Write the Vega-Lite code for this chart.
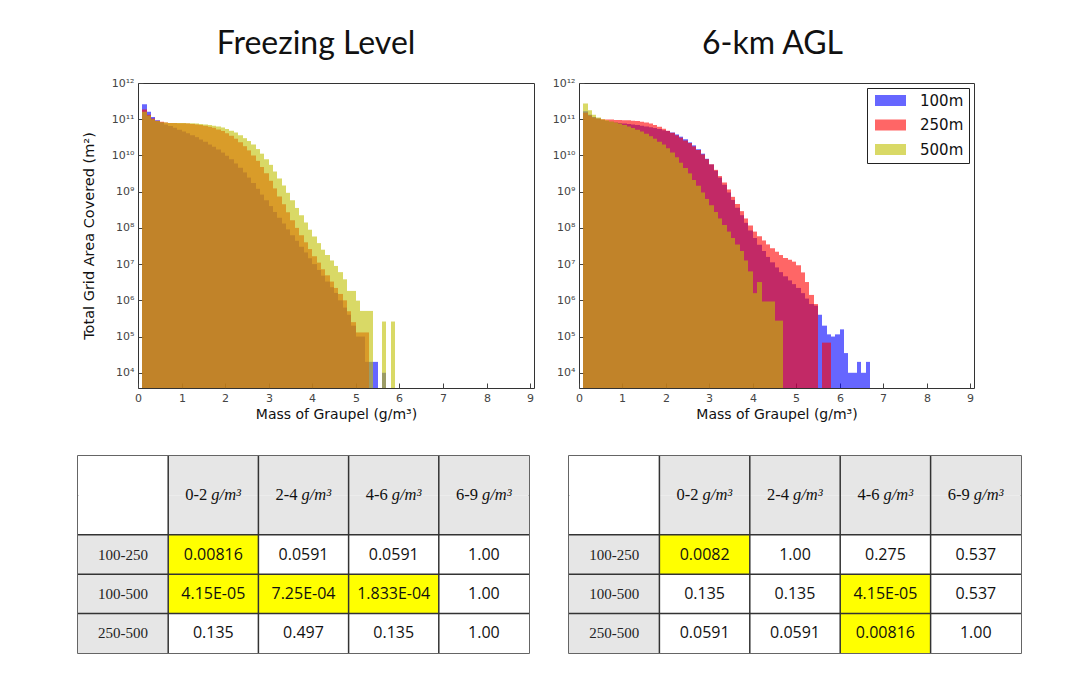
{
  "$schema": "https://vega.github.io/schema/vega-lite/v6.json",
  "background": "white",
  "padding": {"left": 76, "top": 27, "right": 0, "bottom": 0},
  "config": {
    "font": "DejaVu Sans",
    "view": {"stroke": "#333", "strokeWidth": 1},
    "axis": {"domain": false, "grid": false, "labelColor": "#444", "labelFont": "DejaVu Sans", "labelFontSize": 11, "tickColor": "#444", "tickSize": -5, "labelPadding": 9, "titleFont": "DejaVu Sans", "titleFontWeight": "normal", "titleFontSize": 14, "titleColor": "#111"},
    "title": {"font": "Lato", "fontSize": 32, "fontWeight": "normal", "color": "#111", "offset": 16}
  },
  "datasets": {
    "hist": [
      {"panel":"FL","lo":0.1,"hi":0.2,"100m":2.6e11,"250m":1.86e11,"500m":1.6e11},
      {"panel":"FL","lo":0.2,"hi":0.3,"100m":1.6e11,"250m":1.32e11,"500m":1.26e11},
      {"panel":"FL","lo":0.3,"hi":0.4,"100m":1.15e11,"250m":1.05e11,"500m":1.0e11},
      {"panel":"FL","lo":0.4,"hi":0.5,"100m":9.3e10,"250m":9.1e10,"500m":8.9e10},
      {"panel":"FL","lo":0.5,"hi":0.6,"100m":8.1e10,"250m":8.5e10,"500m":8.3e10},
      {"panel":"FL","lo":0.6,"hi":0.7,"100m":7.2e10,"250m":8.1e10,"500m":8.1e10},
      {"panel":"FL","lo":0.7,"hi":0.8,"100m":6.5e10,"250m":7.9e10,"500m":7.9e10},
      {"panel":"FL","lo":0.8,"hi":0.9,"100m":5.8e10,"250m":7.9e10,"500m":7.9e10},
      {"panel":"FL","lo":0.9,"hi":1.0,"100m":5.1e10,"250m":7.8e10,"500m":7.9e10},
      {"panel":"FL","lo":1.0,"hi":1.1,"100m":4.6e10,"250m":7.8e10,"500m":7.9e10},
      {"panel":"FL","lo":1.1,"hi":1.2,"100m":4.1e10,"250m":7.6e10,"500m":7.8e10},
      {"panel":"FL","lo":1.2,"hi":1.3,"100m":3.6e10,"250m":7.4e10,"500m":7.7e10},
      {"panel":"FL","lo":1.3,"hi":1.4,"100m":3.2e10,"250m":7.2e10,"500m":7.6e10},
      {"panel":"FL","lo":1.4,"hi":1.5,"100m":2.75e10,"250m":6.9e10,"500m":7.4e10},
      {"panel":"FL","lo":1.5,"hi":1.6,"100m":2.4e10,"250m":6.6e10,"500m":7.2e10},
      {"panel":"FL","lo":1.6,"hi":1.7,"100m":2.0e10,"250m":6.2e10,"500m":6.9e10},
      {"panel":"FL","lo":1.7,"hi":1.8,"100m":1.74e10,"250m":5.8e10,"500m":6.6e10},
      {"panel":"FL","lo":1.8,"hi":1.9,"100m":1.45e10,"250m":5.2e10,"500m":6.3e10},
      {"panel":"FL","lo":1.9,"hi":2.0,"100m":1.2e10,"250m":4.7e10,"500m":5.9e10},
      {"panel":"FL","lo":2.0,"hi":2.1,"100m":9.8e9,"250m":4.1e10,"500m":5.4e10},
      {"panel":"FL","lo":2.1,"hi":2.2,"100m":7.8e9,"250m":3.5e10,"500m":4.8e10},
      {"panel":"FL","lo":2.2,"hi":2.3,"100m":6.0e9,"250m":2.9e10,"500m":4.3e10},
      {"panel":"FL","lo":2.3,"hi":2.4,"100m":4.6e9,"250m":2.3e10,"500m":3.6e10},
      {"panel":"FL","lo":2.4,"hi":2.5,"100m":3.4e9,"250m":1.8e10,"500m":3.0e10},
      {"panel":"FL","lo":2.5,"hi":2.6,"100m":2.45e9,"250m":1.38e10,"500m":2.5e10},
      {"panel":"FL","lo":2.6,"hi":2.7,"100m":1.74e9,"250m":1.0e10,"500m":2.0e10},
      {"panel":"FL","lo":2.7,"hi":2.8,"100m":1.2e9,"250m":7.1e9,"500m":1.5e10},
      {"panel":"FL","lo":2.8,"hi":2.9,"100m":8.3e8,"250m":4.8e9,"500m":1.12e10},
      {"panel":"FL","lo":2.9,"hi":3.0,"100m":5.75e8,"250m":3.2e9,"500m":7.9e9},
      {"panel":"FL","lo":3.0,"hi":3.1,"100m":4.0e8,"250m":2.0e9,"500m":5.5e9},
      {"panel":"FL","lo":3.1,"hi":3.2,"100m":2.75e8,"250m":1.23e9,"500m":3.6e9},
      {"panel":"FL","lo":3.2,"hi":3.3,"100m":1.9e8,"250m":7.4e8,"500m":2.3e9},
      {"panel":"FL","lo":3.3,"hi":3.4,"100m":1.32e8,"250m":4.5e8,"500m":1.48e9},
      {"panel":"FL","lo":3.4,"hi":3.5,"100m":9.1e7,"250m":2.7e8,"500m":9.3e8},
      {"panel":"FL","lo":3.5,"hi":3.6,"100m":6.3e7,"250m":1.62e8,"500m":5.75e8},
      {"panel":"FL","lo":3.6,"hi":3.7,"100m":4.4e7,"250m":1.0e8,"500m":3.55e8},
      {"panel":"FL","lo":3.7,"hi":3.8,"100m":3.0e7,"250m":6.3e7,"500m":2.24e8},
      {"panel":"FL","lo":3.8,"hi":3.9,"100m":2.1e7,"250m":4.0e7,"500m":1.41e8},
      {"panel":"FL","lo":3.9,"hi":4.0,"100m":1.45e7,"250m":2.6e7,"500m":8.9e7},
      {"panel":"FL","lo":4.0,"hi":4.1,"100m":1.0e7,"250m":1.66e7,"500m":5.75e7},
      {"panel":"FL","lo":4.1,"hi":4.2,"100m":6.9e6,"250m":1.1e7,"500m":3.8e7},
      {"panel":"FL","lo":4.2,"hi":4.3,"100m":4.8e6,"250m":7.2e6,"500m":2.5e7},
      {"panel":"FL","lo":4.3,"hi":4.4,"100m":3.3e6,"250m":4.9e6,"500m":1.78e7},
      {"panel":"FL","lo":4.4,"hi":4.5,"100m":2.3e6,"250m":3.3e6,"500m":1.26e7},
      {"panel":"FL","lo":4.5,"hi":4.6,"100m":1.6e6,"250m":2.2e6,"500m":8.9e6},
      {"panel":"FL","lo":4.6,"hi":4.7,"100m":1.0e6,"250m":1.5e6,"500m":6.0e6},
      {"panel":"FL","lo":4.7,"hi":4.8,"100m":6.3e5,"250m":1.0e6,"500m":3.8e6},
      {"panel":"FL","lo":4.8,"hi":4.9,"100m":4.0e5,"250m":5.0e5,"500m":1.82e6},
      {"panel":"FL","lo":4.9,"hi":5.0,"100m":2.0e5,"250m":2.5e5,"500m":1.82e6},
      {"panel":"FL","lo":5.0,"hi":5.1,"100m":1.0e5,"250m":1.3e5,"500m":9.8e5},
      {"panel":"FL","lo":5.1,"hi":5.2,"100m":1.0e5,"250m":1.3e5,"500m":5.1e5},
      {"panel":"FL","lo":5.2,"hi":5.3,"100m":2.0e4,"250m":1.3e5,"500m":5.1e5},
      {"panel":"FL","lo":5.3,"hi":5.4,"100m":2.0e4,"250m":null,"500m":5.1e5},
      {"panel":"FL","lo":5.4,"hi":5.5,"100m":2.0e4,"250m":null,"500m":null},
      {"panel":"FL","lo":5.6,"hi":5.7,"100m":1.0e4,"250m":null,"500m":2.6e5},
      {"panel":"FL","lo":5.8,"hi":5.9,"100m":null,"250m":null,"500m":2.6e5},
      {"panel":"AGL","lo":0.1,"hi":0.2,"100m":1.66e11,"250m":1.5e11,"500m":2.7e11},
      {"panel":"AGL","lo":0.2,"hi":0.3,"100m":1.32e11,"250m":1.26e11,"500m":1.78e11},
      {"panel":"AGL","lo":0.3,"hi":0.4,"100m":1.15e11,"250m":1.12e11,"500m":1.32e11},
      {"panel":"AGL","lo":0.4,"hi":0.5,"100m":1.05e11,"250m":1.05e11,"500m":1.12e11},
      {"panel":"AGL","lo":0.5,"hi":0.6,"100m":9.5e10,"250m":1.0e11,"500m":1.0e11},
      {"panel":"AGL","lo":0.6,"hi":0.7,"100m":8.9e10,"250m":9.8e10,"500m":9.3e10},
      {"panel":"AGL","lo":0.7,"hi":0.8,"100m":8.5e10,"250m":9.8e10,"500m":8.7e10},
      {"panel":"AGL","lo":0.8,"hi":0.9,"100m":8.1e10,"250m":9.5e10,"500m":8.1e10},
      {"panel":"AGL","lo":0.9,"hi":1.0,"100m":7.9e10,"250m":9.5e10,"500m":7.6e10},
      {"panel":"AGL","lo":1.0,"hi":1.1,"100m":7.6e10,"250m":9.3e10,"500m":6.9e10},
      {"panel":"AGL","lo":1.1,"hi":1.2,"100m":7.4e10,"250m":9.3e10,"500m":6.3e10},
      {"panel":"AGL","lo":1.2,"hi":1.3,"100m":7.1e10,"250m":9.1e10,"500m":5.75e10},
      {"panel":"AGL","lo":1.3,"hi":1.4,"100m":6.9e10,"250m":8.9e10,"500m":5.1e10},
      {"panel":"AGL","lo":1.4,"hi":1.5,"100m":6.6e10,"250m":8.5e10,"500m":4.6e10},
      {"panel":"AGL","lo":1.5,"hi":1.6,"100m":6.3e10,"250m":8.1e10,"500m":4.0e10},
      {"panel":"AGL","lo":1.6,"hi":1.7,"100m":6.0e10,"250m":7.6e10,"500m":3.4e10},
      {"panel":"AGL","lo":1.7,"hi":1.8,"100m":5.75e10,"250m":6.9e10,"500m":2.9e10},
      {"panel":"AGL","lo":1.8,"hi":1.9,"100m":5.4e10,"250m":6.2e10,"500m":2.4e10},
      {"panel":"AGL","lo":1.9,"hi":2.0,"100m":5.0e10,"250m":5.5e10,"500m":2.0e10},
      {"panel":"AGL","lo":2.0,"hi":2.1,"100m":4.7e10,"250m":4.8e10,"500m":1.58e10},
      {"panel":"AGL","lo":2.1,"hi":2.2,"100m":4.3e10,"250m":4.2e10,"500m":1.2e10},
      {"panel":"AGL","lo":2.2,"hi":2.3,"100m":3.8e10,"250m":3.6e10,"500m":8.9e9},
      {"panel":"AGL","lo":2.3,"hi":2.4,"100m":3.3e10,"250m":3.1e10,"500m":6.3e9},
      {"panel":"AGL","lo":2.4,"hi":2.5,"100m":2.8e10,"250m":2.6e10,"500m":4.5e9},
      {"panel":"AGL","lo":2.5,"hi":2.6,"100m":2.3e10,"250m":2.2e10,"500m":3.2e9},
      {"panel":"AGL","lo":2.6,"hi":2.7,"100m":1.9e10,"250m":1.78e10,"500m":2.1e9},
      {"panel":"AGL","lo":2.7,"hi":2.8,"100m":1.48e10,"250m":1.41e10,"500m":1.45e9},
      {"panel":"AGL","lo":2.8,"hi":2.9,"100m":1.12e10,"250m":1.07e10,"500m":9.5e8},
      {"panel":"AGL","lo":2.9,"hi":3.0,"100m":8.1e9,"250m":7.9e9,"500m":6.3e8},
      {"panel":"AGL","lo":3.0,"hi":3.1,"100m":5.6e9,"250m":5.75e9,"500m":4.2e8},
      {"panel":"AGL","lo":3.1,"hi":3.2,"100m":3.8e9,"250m":4.0e9,"500m":2.75e8},
      {"panel":"AGL","lo":3.2,"hi":3.3,"100m":2.45e9,"250m":2.7e9,"500m":1.82e8},
      {"panel":"AGL","lo":3.3,"hi":3.4,"100m":1.55e9,"250m":1.78e9,"500m":1.2e8},
      {"panel":"AGL","lo":3.4,"hi":3.5,"100m":9.5e8,"250m":1.15e9,"500m":7.9e7},
      {"panel":"AGL","lo":3.5,"hi":3.6,"100m":5.9e8,"250m":7.2e8,"500m":5.25e7},
      {"panel":"AGL","lo":3.6,"hi":3.7,"100m":3.6e8,"250m":4.6e8,"500m":3.5e7},
      {"panel":"AGL","lo":3.7,"hi":3.8,"100m":2.24e8,"250m":2.9e8,"500m":2.3e7},
      {"panel":"AGL","lo":3.8,"hi":3.9,"100m":1.38e8,"250m":1.82e8,"500m":1.26e7},
      {"panel":"AGL","lo":3.9,"hi":4.0,"100m":8.5e7,"250m":1.17e8,"500m":6.3e6},
      {"panel":"AGL","lo":4.0,"hi":4.1,"100m":5.25e7,"250m":7.9e7,"500m":1.58e6},
      {"panel":"AGL","lo":4.1,"hi":4.2,"100m":3.4e7,"250m":5.9e7,"500m":3.2e6},
      {"panel":"AGL","lo":4.2,"hi":4.3,"100m":2.3e7,"250m":4.5e7,"500m":9.3e5},
      {"panel":"AGL","lo":4.3,"hi":4.4,"100m":1.58e7,"250m":3.5e7,"500m":9.3e5},
      {"panel":"AGL","lo":4.4,"hi":4.5,"100m":1.12e7,"250m":2.75e7,"500m":9.3e5},
      {"panel":"AGL","lo":4.5,"hi":4.6,"100m":8.1e6,"250m":2.2e7,"500m":2.75e5},
      {"panel":"AGL","lo":4.6,"hi":4.7,"100m":6.0e6,"250m":1.78e7,"500m":2.75e5},
      {"panel":"AGL","lo":4.7,"hi":4.8,"100m":4.6e6,"250m":1.48e7,"500m":null},
      {"panel":"AGL","lo":4.8,"hi":4.9,"100m":3.55e6,"250m":1.32e7,"500m":null},
      {"panel":"AGL","lo":4.9,"hi":5.0,"100m":2.8e6,"250m":1.17e7,"500m":null},
      {"panel":"AGL","lo":5.0,"hi":5.1,"100m":2.2e6,"250m":9.3e6,"500m":null},
      {"panel":"AGL","lo":5.1,"hi":5.2,"100m":1.58e6,"250m":5.9e6,"500m":null},
      {"panel":"AGL","lo":5.2,"hi":5.3,"100m":1.12e6,"250m":3.2e6,"500m":null},
      {"panel":"AGL","lo":5.3,"hi":5.4,"100m":7.9e5,"250m":1.41e6,"500m":null},
      {"panel":"AGL","lo":5.4,"hi":5.5,"100m":7.1e5,"250m":7.9e5,"500m":null},
      {"panel":"AGL","lo":5.5,"hi":5.6,"100m":4.0e5,"250m":null,"500m":null},
      {"panel":"AGL","lo":5.6,"hi":5.7,"100m":2.0e5,"250m":6.8e4,"500m":null},
      {"panel":"AGL","lo":5.7,"hi":5.8,"100m":1.15e5,"250m":6.8e4,"500m":null},
      {"panel":"AGL","lo":5.8,"hi":5.9,"100m":1.0e5,"250m":null,"500m":null},
      {"panel":"AGL","lo":5.9,"hi":6.0,"100m":1.15e5,"250m":null,"500m":null},
      {"panel":"AGL","lo":6.0,"hi":6.1,"100m":1.58e5,"250m":null,"500m":null},
      {"panel":"AGL","lo":6.1,"hi":6.2,"100m":3.5e4,"250m":null,"500m":null},
      {"panel":"AGL","lo":6.2,"hi":6.3,"100m":1.0e4,"250m":null,"500m":null},
      {"panel":"AGL","lo":6.3,"hi":6.4,"100m":1.0e4,"250m":null,"500m":null},
      {"panel":"AGL","lo":6.4,"hi":6.5,"100m":2.0e4,"250m":null,"500m":null},
      {"panel":"AGL","lo":6.5,"hi":6.6,"100m":1.0e4,"250m":null,"500m":null},
      {"panel":"AGL","lo":6.6,"hi":6.7,"100m":2.0e4,"250m":null,"500m":null}
    ],
    "cells": [
      {"t":"L","row":"header","col":"c0","txt":"","kind":"blank"},
      {"t":"L","row":"header","col":"c1","txt":"0-2","kind":"head"},
      {"t":"L","row":"header","col":"c2","txt":"2-4","kind":"head"},
      {"t":"L","row":"header","col":"c3","txt":"4-6","kind":"head"},
      {"t":"L","row":"header","col":"c4","txt":"6-9","kind":"head"},
      {"t":"L","row":"100-250","col":"c0","txt":"100-250","kind":"label"},
      {"t":"L","row":"100-250","col":"c1","txt":"0.00816","kind":"hl"},
      {"t":"L","row":"100-250","col":"c2","txt":"0.0591","kind":"val"},
      {"t":"L","row":"100-250","col":"c3","txt":"0.0591","kind":"val"},
      {"t":"L","row":"100-250","col":"c4","txt":"1.00","kind":"val"},
      {"t":"L","row":"100-500","col":"c0","txt":"100-500","kind":"label"},
      {"t":"L","row":"100-500","col":"c1","txt":"4.15E-05","kind":"hl"},
      {"t":"L","row":"100-500","col":"c2","txt":"7.25E-04","kind":"hl"},
      {"t":"L","row":"100-500","col":"c3","txt":"1.833E-04","kind":"hl"},
      {"t":"L","row":"100-500","col":"c4","txt":"1.00","kind":"val"},
      {"t":"L","row":"250-500","col":"c0","txt":"250-500","kind":"label"},
      {"t":"L","row":"250-500","col":"c1","txt":"0.135","kind":"val"},
      {"t":"L","row":"250-500","col":"c2","txt":"0.497","kind":"val"},
      {"t":"L","row":"250-500","col":"c3","txt":"0.135","kind":"val"},
      {"t":"L","row":"250-500","col":"c4","txt":"1.00","kind":"val"},
      {"t":"R","row":"header","col":"c0","txt":"","kind":"blank"},
      {"t":"R","row":"header","col":"c1","txt":"0-2","kind":"head"},
      {"t":"R","row":"header","col":"c2","txt":"2-4","kind":"head"},
      {"t":"R","row":"header","col":"c3","txt":"4-6","kind":"head"},
      {"t":"R","row":"header","col":"c4","txt":"6-9","kind":"head"},
      {"t":"R","row":"100-250","col":"c0","txt":"100-250","kind":"label"},
      {"t":"R","row":"100-250","col":"c1","txt":"0.0082","kind":"hl"},
      {"t":"R","row":"100-250","col":"c2","txt":"1.00","kind":"val"},
      {"t":"R","row":"100-250","col":"c3","txt":"0.275","kind":"val"},
      {"t":"R","row":"100-250","col":"c4","txt":"0.537","kind":"val"},
      {"t":"R","row":"100-500","col":"c0","txt":"100-500","kind":"label"},
      {"t":"R","row":"100-500","col":"c1","txt":"0.135","kind":"val"},
      {"t":"R","row":"100-500","col":"c2","txt":"0.135","kind":"val"},
      {"t":"R","row":"100-500","col":"c3","txt":"4.15E-05","kind":"hl"},
      {"t":"R","row":"100-500","col":"c4","txt":"0.537","kind":"val"},
      {"t":"R","row":"250-500","col":"c0","txt":"250-500","kind":"label"},
      {"t":"R","row":"250-500","col":"c1","txt":"0.0591","kind":"val"},
      {"t":"R","row":"250-500","col":"c2","txt":"0.0591","kind":"val"},
      {"t":"R","row":"250-500","col":"c3","txt":"0.00816","kind":"hl"},
      {"t":"R","row":"250-500","col":"c4","txt":"1.00","kind":"val"}
    ]
  },
  "columns": 3,
  "align": "none",
  "spacing": {"row": 32, "column": -40},
  "resolve": {"legend": {"color": "independent"}},
  "concat": [
    {
      "width": 1, "height": 1,
      "view": {"stroke": null},
      "data": {"values": []},
      "mark": {"type": "point", "opacity": 0},
      "encoding": {}
    },
    {
      "width": 396, "height": 305,
      "title": {"text": "Freezing Level", "frame": "group", "anchor": "middle", "dx": -20},
      "data": {"name": "hist"},
      "transform": [
        {"filter": "datum.panel == 'FL'"},
        {"fold": ["100m", "250m", "500m"], "as": ["res", "area"]},
        {"filter": "isValid(datum.area)"}
      ],
      "mark": {"type": "rect", "opacity": 0.6},
      "encoding": {
        "x": {"field": "lo", "type": "quantitative",
              "scale": {"domain": [0, 9.09], "nice": false, "zero": false, "round": true},
              "axis": {"values": [0,1,2,3,4,5,6,7,8,9], "format": "d", "labelFlush": false, "title": "Mass of Graupel (g/m³)"}},
        "x2": {"field": "hi"},
        "y": {"field": "area", "type": "quantitative",
              "scale": {"type": "log", "domain": [3800, 1e12], "nice": false},
              "axis": {"values": [1e4,1e5,1e6,1e7,1e8,1e9,1e10,1e11,1e12], "labelExpr": "'10' + ['','','','','⁴','⁵','⁶','⁷','⁸','⁹','¹⁰','¹¹','¹²'][round(log(datum.value)/LN10)]", "title": ["", "Total Grid Area Covered (m²)"], "titleLineHeight": 4, "titleFontSize": 14.5, "titlePadding": 15}},
        "y2": {"datum": 3800},
        "color": {"field": "res", "type": "nominal",
                  "scale": {"domain": ["100m", "250m", "500m"], "range": ["#0000ff", "#ff0000", "#bfbf00"]},
                  "legend": null}
      }
    },
    {
      "width": 395, "height": 305,
      "title": {"text": "6-km AGL", "frame": "group", "anchor": "middle", "dx": -4},
      "data": {"name": "hist"},
      "transform": [
        {"filter": "datum.panel == 'AGL'"},
        {"fold": ["100m", "250m", "500m"], "as": ["res", "area"]},
        {"filter": "isValid(datum.area)"}
      ],
      "mark": {"type": "rect", "opacity": 0.6},
      "encoding": {
        "x": {"field": "lo", "type": "quantitative",
              "scale": {"domain": [0, 9.09], "nice": false, "zero": false, "round": true},
              "axis": {"values": [0,1,2,3,4,5,6,7,8,9], "format": "d", "labelFlush": false, "title": "Mass of Graupel (g/m³)"}},
        "x2": {"field": "hi"},
        "y": {"field": "area", "type": "quantitative",
              "scale": {"type": "log", "domain": [3800, 1e12], "nice": false},
              "axis": {"values": [1e4,1e5,1e6,1e7,1e8,1e9,1e10,1e11,1e12], "labelExpr": "'10' + ['','','','','⁴','⁵','⁶','⁷','⁸','⁹','¹⁰','¹¹','¹²'][round(log(datum.value)/LN10)]", "title": null}},
        "y2": {"datum": 3800},
        "color": {"field": "res", "type": "nominal",
                  "scale": {"domain": ["100m", "250m", "500m"], "range": ["#0000ff", "#ff0000", "#bfbf00"]},
                  "legend": {"orient": "top-right", "offset": 5, "title": null, "symbolType": "M-2.214,-0.786H2.214V0.786H-2.214Z", "symbolSize": 196, "symbolOpacity": 0.6, "symbolStrokeWidth": 0, "symbolOffset": 11, "labelFont": "DejaVu Sans", "labelFontSize": 15, "labelColor": "#111", "labelOffset": 22, "rowPadding": 8.5, "padding": 5, "strokeColor": "#222", "fillColor": "white", "cornerRadius": 0}}
      }
    },
    {
      "width": 1, "height": 1,
      "view": {"stroke": null},
      "data": {"values": []},
      "mark": {"type": "point", "opacity": 0},
      "encoding": {}
    },
    {
      "width": 451, "height": 197,
      "view": {"stroke": "#333", "strokeWidth": 1.5},
      "data": {"name": "cells"},
      "transform": [{"filter": "datum.t == 'L'"}],
      "layer": [
        {"mark": {"type": "rect"},
         "encoding": {
           "x": {"field": "col", "type": "nominal", "scale": {"domain": ["c0","c1","c2","c3","c4"], "paddingInner": 0, "paddingOuter": 0}, "axis": null},
           "y": {"field": "row", "type": "nominal", "scale": {"domain": ["header","header-2","100-250","100-500","250-500"], "paddingInner": 0, "paddingOuter": 0}, "axis": null},
           "fill": {"field": "kind", "type": "nominal", "scale": {"domain": ["head","blank","val","hl","label"], "range": ["#e6e6e6","#ffffff","#ffffff","#ffff00","#e6e6e6"]}, "legend": null}}},
        {"transform": [{"filter": "datum.row == 'header'"}],
         "mark": {"type": "rect"},
         "encoding": {
           "x": {"field": "col", "type": "nominal", "axis": null},
           "y": {"datum": "header-2", "type": "nominal", "axis": null},
           "fill": {"field": "kind", "type": "nominal", "legend": null}}},
        {"transform": [{"filter": "datum.row == 'header' && datum.col != 'c0'"}],
         "mark": {"type": "rule", "stroke": "#333", "strokeWidth": 1.5},
         "encoding": {"x": {"field": "col", "type": "nominal", "bandPosition": 0, "axis": null}}},
        {"transform": [{"filter": "datum.col == 'c0' && datum.row != 'header'"}],
         "mark": {"type": "rule", "stroke": "#333", "strokeWidth": 1.5},
         "encoding": {"y": {"field": "row", "type": "nominal", "bandPosition": 0, "axis": null}}},
        {"transform": [{"filter": "datum.kind == 'head'"}],
         "mark": {"type": "text", "font": "Liberation Serif", "fontSize": 16.5, "align": "right", "dx": -6, "color": "#111"},
         "encoding": {
           "x": {"field": "col", "type": "nominal", "axis": null},
           "y": {"field": "row", "type": "nominal", "bandPosition": 1, "axis": null},
           "text": {"field": "txt"}}},
        {"transform": [{"filter": "datum.kind == 'head'"}],
         "mark": {"type": "text", "font": "Liberation Serif", "fontStyle": "italic", "fontSize": 16.5, "align": "left", "dx": -2, "color": "#111", "text": "g/m³"},
         "encoding": {
           "x": {"field": "col", "type": "nominal", "axis": null},
           "y": {"field": "row", "type": "nominal", "bandPosition": 1, "axis": null}}},
        {"transform": [{"filter": "datum.kind == 'label'"}],
         "mark": {"type": "text", "font": "Liberation Serif", "fontSize": 15, "color": "#222"},
         "encoding": {
           "x": {"field": "col", "type": "nominal", "axis": null},
           "y": {"field": "row", "type": "nominal", "axis": null},
           "text": {"field": "txt"}}},
        {"transform": [{"filter": "datum.kind == 'val' || datum.kind == 'hl'"}],
         "mark": {"type": "text", "font": "Open Sans", "fontSize": 16, "color": "#111"},
         "encoding": {
           "x": {"field": "col", "type": "nominal", "axis": null},
           "y": {"field": "row", "type": "nominal", "axis": null},
           "text": {"field": "txt"}}}
      ]
    },
    {
      "width": 452, "height": 197,
      "view": {"stroke": "#333", "strokeWidth": 1.5},
      "data": {"name": "cells"},
      "transform": [{"filter": "datum.t == 'R'"}],
      "layer": [
        {"mark": {"type": "rect"},
         "encoding": {
           "x": {"field": "col", "type": "nominal", "scale": {"domain": ["c0","c1","c2","c3","c4"], "paddingInner": 0, "paddingOuter": 0}, "axis": null},
           "y": {"field": "row", "type": "nominal", "scale": {"domain": ["header","header-2","100-250","100-500","250-500"], "paddingInner": 0, "paddingOuter": 0}, "axis": {"orient": "left", "labels": false, "ticks": false, "title": null, "domain": true, "domainOpacity": 0, "offset": 77}},
           "fill": {"field": "kind", "type": "nominal", "scale": {"domain": ["head","blank","val","hl","label"], "range": ["#e6e6e6","#ffffff","#ffffff","#ffff00","#e6e6e6"]}, "legend": null}}},
        {"transform": [{"filter": "datum.row == 'header'"}],
         "mark": {"type": "rect"},
         "encoding": {
           "x": {"field": "col", "type": "nominal", "axis": null},
           "y": {"datum": "header-2", "type": "nominal", "axis": {"orient": "left", "labels": false, "ticks": false, "title": null, "domain": true, "domainOpacity": 0, "offset": 77}},
           "fill": {"field": "kind", "type": "nominal", "legend": null}}},
        {"transform": [{"filter": "datum.row == 'header' && datum.col != 'c0'"}],
         "mark": {"type": "rule", "stroke": "#333", "strokeWidth": 1.5},
         "encoding": {"x": {"field": "col", "type": "nominal", "bandPosition": 0, "axis": null}}},
        {"transform": [{"filter": "datum.col == 'c0' && datum.row != 'header'"}],
         "mark": {"type": "rule", "stroke": "#333", "strokeWidth": 1.5},
         "encoding": {"y": {"field": "row", "type": "nominal", "bandPosition": 0, "axis": {"orient": "left", "labels": false, "ticks": false, "title": null, "domain": true, "domainOpacity": 0, "offset": 77}}}},
        {"transform": [{"filter": "datum.kind == 'head'"}],
         "mark": {"type": "text", "font": "Liberation Serif", "fontSize": 16.5, "align": "right", "dx": -6, "color": "#111"},
         "encoding": {
           "x": {"field": "col", "type": "nominal", "axis": null},
           "y": {"field": "row", "type": "nominal", "bandPosition": 1, "axis": {"orient": "left", "labels": false, "ticks": false, "title": null, "domain": true, "domainOpacity": 0, "offset": 77}},
           "text": {"field": "txt"}}},
        {"transform": [{"filter": "datum.kind == 'head'"}],
         "mark": {"type": "text", "font": "Liberation Serif", "fontStyle": "italic", "fontSize": 16.5, "align": "left", "dx": -2, "color": "#111", "text": "g/m³"},
         "encoding": {
           "x": {"field": "col", "type": "nominal", "axis": null},
           "y": {"field": "row", "type": "nominal", "bandPosition": 1, "axis": {"orient": "left", "labels": false, "ticks": false, "title": null, "domain": true, "domainOpacity": 0, "offset": 77}}}},
        {"transform": [{"filter": "datum.kind == 'label'"}],
         "mark": {"type": "text", "font": "Liberation Serif", "fontSize": 15, "color": "#222"},
         "encoding": {
           "x": {"field": "col", "type": "nominal", "axis": null},
           "y": {"field": "row", "type": "nominal", "axis": {"orient": "left", "labels": false, "ticks": false, "title": null, "domain": true, "domainOpacity": 0, "offset": 77}},
           "text": {"field": "txt"}}},
        {"transform": [{"filter": "datum.kind == 'val' || datum.kind == 'hl'"}],
         "mark": {"type": "text", "font": "Open Sans", "fontSize": 16, "color": "#111"},
         "encoding": {
           "x": {"field": "col", "type": "nominal", "axis": null},
           "y": {"field": "row", "type": "nominal", "axis": {"orient": "left", "labels": false, "ticks": false, "title": null, "domain": true, "domainOpacity": 0, "offset": 77}},
           "text": {"field": "txt"}}}
      ]
    }
  ]
}
